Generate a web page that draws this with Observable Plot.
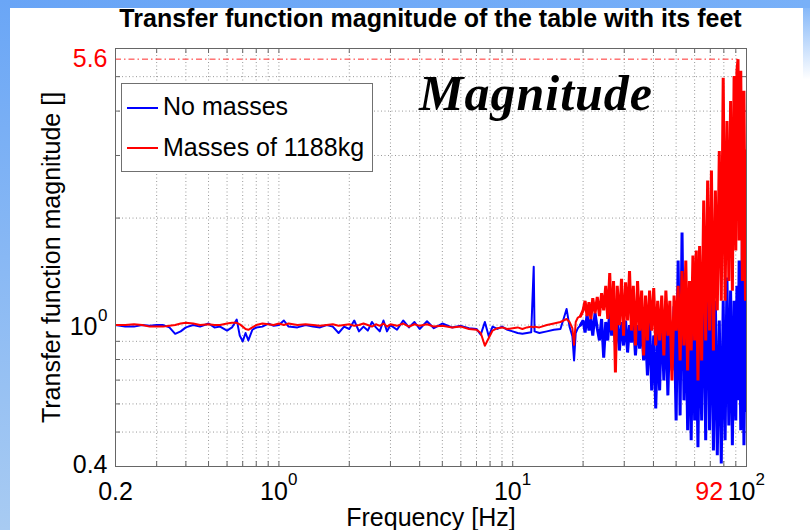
<!DOCTYPE html>
<html>
<head>
<meta charset="utf-8">
<script src="https://cdn.jsdelivr.net/npm/d3@7"></script>
<script src="https://cdn.jsdelivr.net/npm/@observablehq/plot@0.6"></script>
<style>
html, body { margin: 0; padding: 0; }
body { width: 810px; height: 530px; position: relative; background: #ffffff; overflow: hidden;
       font-family: "Liberation Sans", Arial, sans-serif; }
.strip { position: absolute; }
#stripTop { left: 0; top: 0; width: 810px; height: 8px; background: linear-gradient(to right, #68a4f6, #78b0f8); }
#stripLeft { left: 0; top: 0; width: 10px; height: 530px; background: linear-gradient(to bottom, #6aa6f6, #a8cbf2); }
#stripRight { left: 803px; top: 0; width: 7px; height: 530px; background: linear-gradient(to bottom, #78b0f8 0%, rgba(255,255,255,0) 15%); }
#chart { position: absolute; left: 0; top: 0; }
#title { position: absolute; left: 115px; width: 631px; top: 6px; text-align: center; font-weight: bold;
         font-size: 25px; line-height: 25px; color: #000; white-space: nowrap; }
#legendBox { position: absolute; left: 121px; top: 83px; width: 250px; height: 87px; border: 1px solid #707070; background: #fff; }
.legLine { position: absolute; left: 127px; width: 31px; height: 1.5px; }
.legText { position: absolute; left: 163px; font-size: 25px; line-height: 25px; color: #000; white-space: nowrap; }
#magnitude { position: absolute; left: 419px; top: 68px; font-family: "Liberation Serif", "Times New Roman", serif;
             font-weight: bold; font-style: italic; font-size: 50px; line-height: 50px; letter-spacing: 1px; color: #000; white-space: nowrap; }
</style>
</head>
<body>
<div class="strip" id="stripTop"></div>
<div class="strip" id="stripLeft"></div>
<div class="strip" id="stripRight"></div>
<div id="chart"></div>
<div id="title"></div>
<div id="legendBox"></div>
<div class="legLine" id="legLine0" style="top:107px;"></div>
<div class="legLine" id="legLine1" style="top:147px;"></div>
<div class="legText" id="legText0" style="top:94px;"></div>
<div class="legText" id="legText1" style="top:135px;"></div>
<div id="magnitude"></div>
<script>
// ---------------- data ----------------
const titleText = "Transfer function magnitude of the table with its feet";
const xAxisLabel = "Frequency [Hz]";
const yAxisLabel = "Transfer function magnitude []";
const annotationText = "Magnitude";
const seriesNames = ["No masses", "Masses of 1188kg"];
const seriesColors = ["#0000ff", "#ff0000"];

const freqHz = [
  0.2, 0.22, 0.24, 0.26, 0.28, 0.3, 0.32, 0.34, 0.36, 0.38,
  0.4, 0.43, 0.46, 0.5, 0.53, 0.56, 0.6, 0.63, 0.66, 0.68,
  0.7, 0.72, 0.74, 0.77, 0.8, 0.85, 0.9, 0.95, 1.0, 1.05,
  1.1, 1.2, 1.3, 1.4, 1.5, 1.6, 1.7, 1.8, 1.9, 2.0,
  2.1, 2.2, 2.3, 2.4, 2.5, 2.6, 2.7, 2.8, 2.9, 3.0,
  3.2, 3.4, 3.6, 3.8, 4.0, 4.3, 4.6, 5.0, 5.5, 6.0,
  6.5, 7.0, 7.3, 7.6, 7.9, 8.2, 8.6, 9.0, 9.5, 10,
  10.5, 11, 11.5, 12, 12.3, 12.4, 13, 14, 15, 16,
  16.5, 17, 17.5, 18, 18.3, 18.6, 19, 19.5,
  20, 20.4, 20.8, 21.2, 21.6, 22, 22.5, 23, 23.5, 24,
  24.5, 25, 25.5, 26, 26.5, 27, 27.5, 28, 28.6, 29.2,
  29.8, 30.4, 31, 31.6, 32.2, 32.8, 33.5, 34.2, 34.9, 35.6,
  36.3, 37, 37.7, 38.5, 39.3, 40.1, 40.9, 41.7, 42.5, 43.4,
  44.3, 45.2, 46.1, 47, 48, 49, 50, 51, 52, 53,
  54, 55, 56, 57, 58, 59, 60, 61, 62, 63,
  64.3, 65.6, 66.9, 68.2, 69.5, 70.8, 72.2, 73.6, 75, 76.5,
  78, 79.5, 81, 82.5, 84, 85.5, 87, 88.5, 90, 91,
  92, 93, 94.5, 96, 97.5, 99, 100
];

const noMasses = [
  1.00, 0.99, 0.99, 1.00, 0.995, 1.00, 1.00, 0.985, 0.945, 0.96,
  0.985, 1.00, 0.99, 1.01, 0.985, 0.99, 0.965, 0.985, 1.036, 0.934,
  0.90, 0.95, 0.905, 0.97, 0.985, 0.99, 1.01, 0.995, 1.00, 1.03,
  0.99, 0.985, 1.00, 0.99, 0.985, 1.00, 0.99, 0.95, 0.99, 0.975,
  1.03, 0.96, 0.99, 0.965, 1.02, 0.985, 0.96, 1.03, 0.96, 1.00,
  0.97, 1.03, 0.985, 1.02, 0.975, 1.025, 0.98, 1.01, 0.985, 0.995,
  0.98, 0.975, 0.94, 1.02, 0.93, 0.99, 0.975, 0.99, 0.97, 0.96,
  0.95, 0.945, 0.95, 0.955, 1.46, 0.96, 0.95, 0.96, 0.97, 0.975,
  1.04, 1.11, 0.99, 0.93, 0.795, 0.95, 0.98, 1.00,
  1.03, 0.953, 1.07, 0.965, 1.04, 0.934, 1.08, 0.978, 0.905, 1.04,
  0.81, 1.02, 0.905, 1.10, 0.934, 1.08, 0.876, 1.04, 0.848, 1.02,
  0.876, 1.03, 0.837, 1.00, 0.893, 1.04, 0.821, 1.00, 0.859, 1.02,
  0.795, 0.965, 0.721, 1.03, 0.655, 0.934, 0.583, 0.965, 0.655, 1.10,
  0.698, 1.06, 0.634, 1.03, 0.745, 1.13, 0.539, 1.52, 0.557, 1.82,
  0.614, 1.17, 0.506, 1.10, 0.474, 1.25, 0.539, 0.965, 0.453, 1.17,
  0.539, 1.52, 0.474, 1.87, 0.506, 1.33, 0.444, 1.17, 0.430, 1.03,
  0.408, 1.17, 0.474, 1.36, 0.522, 1.25, 0.459, 1.17, 0.539, 1.29,
  0.614, 1.52, 0.506, 1.73, 0.459, 1.25, 0.575
];

const masses1188kg = [
  1.00, 1.00, 1.005, 1.00, 0.99, 0.99, 0.99, 0.995, 1.00, 1.01,
  1.015, 1.01, 1.00, 1.005, 1.00, 1.00, 1.01, 1.015, 1.015, 1.005,
  0.99, 0.975, 0.97, 0.985, 1.00, 1.01, 1.005, 1.00, 1.01, 1.00,
  1.01, 1.00, 1.005, 1.00, 0.995, 1.00, 1.005, 0.995, 1.00, 1.005,
  0.995, 1.00, 1.01, 1.00, 0.99, 1.005, 0.995, 1.01, 0.99, 1.005,
  0.995, 1.01, 0.99, 1.005, 0.995, 1.005, 0.99, 0.995, 0.985, 0.99,
  0.975, 0.97, 0.95, 0.875, 0.92, 0.965, 0.98, 0.985, 0.975, 0.98,
  0.985, 0.975, 0.985, 0.99, 0.985, 0.99, 0.985, 1.00, 1.01, 1.02,
  1.03, 1.04, 1.02, 0.98, 0.88, 1.02, 1.05, 1.06,
  1.10, 1.17, 1.06, 1.16, 1.04, 1.19, 1.08, 1.20, 1.06, 1.23,
  1.10, 1.29, 1.04, 1.40, 0.965, 1.33, 0.736, 1.29, 1.00, 1.35,
  0.934, 1.32, 1.03, 1.42, 0.965, 1.29, 0.876, 1.33, 0.965, 1.25,
  0.821, 1.21, 0.905, 1.25, 0.965, 1.27, 0.876, 1.17, 0.905, 1.21,
  0.821, 1.25, 0.934, 1.17, 0.698, 1.21, 0.965, 1.29, 0.795, 1.42,
  0.876, 1.52, 0.745, 1.33, 0.848, 1.57, 0.905, 1.62, 0.698, 1.67,
  0.795, 2.24, 0.905, 2.55, 0.965, 2.72, 0.848, 2.39, 1.10, 3.09,
  1.17, 4.96, 1.17, 3.75, 1.33, 4.27, 1.25, 5.02, 1.62, 5.19,
  5.6, 1.73, 5.19, 1.33, 4.56, 1.17, 3.09
];

// axes / ticks
const xDomain = [0.2, 100];
const yDomain = [0.4, 6];
const xGridTicks = [0.3, 0.4, 0.5, 0.6, 0.7, 0.8, 0.9, 1, 2, 3, 4, 5, 6, 7, 8, 9, 10, 20, 30, 40, 50, 60, 70, 80, 90];
const yGridTicks = [0.5, 0.6, 0.7, 0.8, 0.9, 1, 2, 3, 4, 5];
const xPlainTicks = [0.2];
const xPlainLabels = ["0.2"];
const xDecadeTicks = [1, 10, 100];
const xDecadeExponents = ["0", "1", "2"];
const yPlainTicks = [0.4];
const yPlainLabels = ["0.4"];
const yDecadeTicks = [1];
const yDecadeExponents = ["0"];
const peakFreq = 92;
const peakMag = 5.6;
const denseFrom = 19.5; // above this frequency the response is a dense band

// ---------------- layout ----------------
const W = 810, H = 530;
const mL = 115, mR = 64, mT = 48, mB = 64;
const frameW = W - mL - mR, frameH = H - mT - mB;
const tickLen = 5;
const font = "Liberation Sans, Arial, sans-serif";

function seriesMarks(values, color) {
  return [
    Plot.line(freqHz, { x: freqHz, y: values, filter: d => d <= denseFrom + 0.6, stroke: color, strokeWidth: 2, clip: true }),
    Plot.line(freqHz, { x: freqHz, y: values, filter: d => d >= denseFrom, stroke: color, strokeWidth: 3, strokeLinejoin: "miter", clip: true })
  ];
}

const chart = Plot.plot({
  width: W, height: H,
  marginLeft: mL, marginRight: mR, marginTop: mT, marginBottom: mB,
  style: { background: "transparent", fontFamily: font, overflow: "visible" },
  x: { type: "log", domain: xDomain, axis: null },
  y: { type: "log", domain: yDomain, axis: null },
  marks: [
    // dotted grid
    Plot.ruleX(xGridTicks, { x: d => d, stroke: "#999", strokeWidth: 1, strokeDasharray: "1,2.5" }),
    Plot.ruleY(yGridTicks, { y: d => d, stroke: "#999", strokeWidth: 1, strokeDasharray: "1,2.5" }),
    // inner tick marks
    Plot.tickX(xGridTicks, { x: d => d, insetTop: frameH - tickLen, stroke: "#666" }),
    Plot.tickX(xGridTicks, { x: d => d, insetBottom: frameH - tickLen, stroke: "#666" }),
    Plot.tickY(yGridTicks, { y: d => d, insetRight: frameW - tickLen, stroke: "#666" }),
    Plot.tickY(yGridTicks, { y: d => d, insetLeft: frameW - tickLen, stroke: "#666" }),
    // peak reference line
    Plot.ruleY([peakMag], { y: d => d, x1: () => xDomain[0], x2: () => peakFreq, stroke: "#ff2a2a", strokeWidth: 1, strokeDasharray: "6,3,1.5,3" }),
    // data
    ...seriesMarks(noMasses, seriesColors[0]),
    ...seriesMarks(masses1188kg, seriesColors[1]),
    Plot.frame({ stroke: "#666" }),
    // x tick labels
    Plot.text(xPlainTicks, { x: d => d, text: xPlainLabels, frameAnchor: "bottom", dy: 25, lineAnchor: "middle", fontSize: 25, fill: "#000" }),
    Plot.text(xDecadeTicks, { x: d => d, text: () => "10", frameAnchor: "bottom", textAnchor: "end", dx: 9, dy: 25, lineAnchor: "middle", fontSize: 25, fill: "#000" }),
    Plot.text(xDecadeTicks, { x: d => d, text: xDecadeExponents, frameAnchor: "bottom", textAnchor: "start", dx: 9, dy: 13, lineAnchor: "middle", fontSize: 17, fill: "#000" }),
    Plot.text([peakFreq], { x: d => d, text: d => String(d), frameAnchor: "bottom", textAnchor: "end", dx: -15, dy: 25, lineAnchor: "middle", fontSize: 25, fill: "#ff0000" }),
    // y tick labels
    Plot.text(yPlainTicks, { y: d => d, text: yPlainLabels, frameAnchor: "left", textAnchor: "end", dx: -8, dy: -2, lineAnchor: "middle", fontSize: 25, fill: "#000" }),
    Plot.text(yDecadeTicks, { y: d => d, text: () => "10", frameAnchor: "left", textAnchor: "end", dx: -18, dy: 2, lineAnchor: "middle", fontSize: 25, fill: "#000" }),
    Plot.text(yDecadeTicks, { y: d => d, text: yDecadeExponents, frameAnchor: "left", textAnchor: "end", dx: -8, dy: -10, lineAnchor: "middle", fontSize: 17, fill: "#000" }),
    Plot.text([peakMag], { y: d => d, text: d => String(d), frameAnchor: "left", textAnchor: "end", dx: -8, lineAnchor: "middle", fontSize: 25, fill: "#ff0000" }),
    // axis titles
    Plot.text([xAxisLabel], { text: d => d, frameAnchor: "bottom", dy: 51, lineAnchor: "middle", fontSize: 25, fill: "#000" }),
    Plot.text([yAxisLabel], { text: d => d, frameAnchor: "left", textAnchor: "middle", dx: -64, rotate: -90, lineAnchor: "middle", fontSize: 25, fill: "#000" })
  ]
});
document.getElementById("chart").append(chart);

document.getElementById("title").textContent = titleText;
document.getElementById("magnitude").textContent = annotationText;
seriesNames.forEach((name, i) => {
  document.getElementById("legText" + i).textContent = name;
  document.getElementById("legLine" + i).style.background = seriesColors[i];
});
</script>
</body>
</html>
